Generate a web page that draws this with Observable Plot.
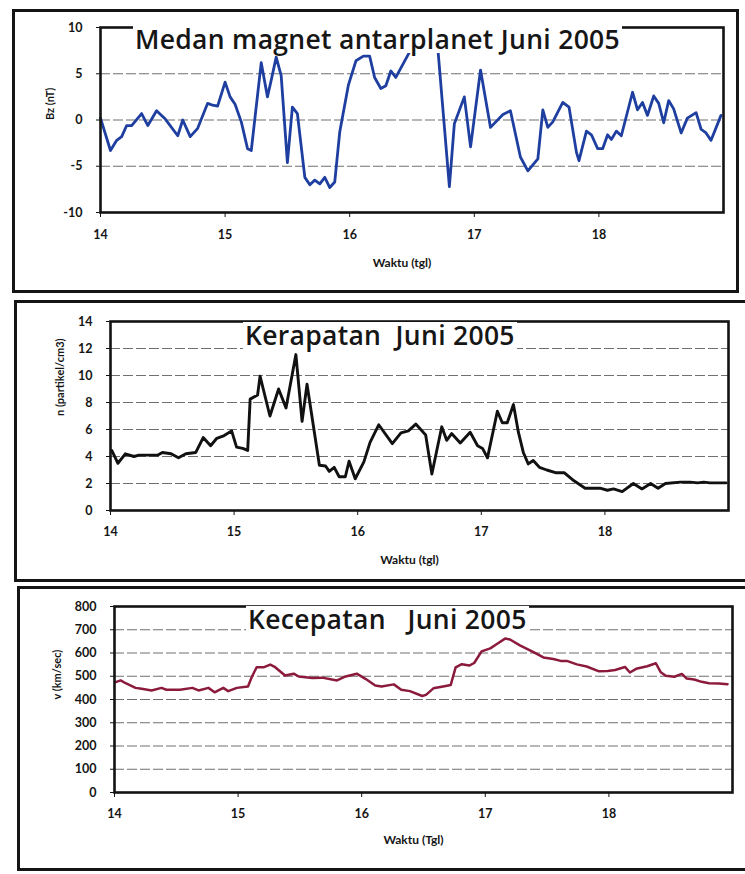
<!DOCTYPE html>
<html>
<head>
<meta charset="utf-8">
<script src="https://cdn.jsdelivr.net/npm/d3@7"></script>
<script src="https://cdn.jsdelivr.net/npm/@observablehq/plot@0.6"></script>
<style>
  html, body { margin: 0; padding: 0; background: #fff; }
  body { width: 745px; height: 874px; position: relative; overflow: hidden; font-family: Lato, "Open Sans", sans-serif; }
  .panel { position: absolute; border: 3px solid #151515; box-sizing: border-box; }
  .chart { position: absolute; left: 0; }
  .title { position: absolute; background: #fff; font-family: "Open Sans", Lato, sans-serif; font-weight: 600; font-size: 26.5px; color: #161616; line-height: 27px; white-space: pre; padding: 0 2px; letter-spacing: 0.3px; }
  svg text { font-weight: 700; }
</style>
</head>
<body>
<div class="panel" style="left:12px;top:9px;width:727px;height:284px;"></div>
<div class="panel" style="left:14px;top:300px;width:740px;height:282px;"></div>
<div class="panel" style="left:17px;top:586px;width:740px;height:285px;"></div>
<div id="c1" class="chart" style="top:0px;"></div>
<div id="c2" class="chart" style="top:300px;"></div>
<div id="c3" class="chart" style="top:585px;"></div>
<div class="title" style="left:133px;top:26px;">Medan magnet antarplanet Juni 2005</div>
<div class="title" style="left:243px;top:322px;">Kerapatan  Juni 2005</div>
<div class="title" style="left:246px;top:606px;">Kecepatan   Juni 2005</div>
<script>
// ---------- data ----------
const xTicks = [14, 15, 16, 17, 18];

// Medan magnet antarplanet Bz (nT)
const bzTime = [14.00,14.08,14.13,14.17,14.21,14.25,14.33,14.38,14.45,14.52,14.62,14.66,14.72,14.78,14.86,14.90,14.94,15.00,15.04,15.08,15.13,15.18,15.21,15.29,15.34,15.37,15.41,15.45,15.50,15.54,15.58,15.64,15.68,15.72,15.76,15.80,15.84,15.88,15.92,15.99,16.05,16.11,16.16,16.20,16.25,16.29,16.33,16.37,16.47,16.56,16.64,16.71,16.80,16.84,16.92,16.97,17.05,17.13,17.23,17.29,17.37,17.43,17.51,17.55,17.59,17.63,17.71,17.76,17.82,17.84,17.90,17.94,17.99,18.03,18.07,18.10,18.14,18.18,18.27,18.31,18.35,18.39,18.44,18.48,18.52,18.56,18.60,18.66,18.71,18.78,18.82,18.86,18.90,18.98];
const bzVal  = [0.2,-3.3,-2.2,-1.8,-0.6,-0.6,0.7,-0.6,1.0,0.1,-1.7,0.0,-1.8,-0.9,1.8,1.6,1.5,4.1,2.5,1.7,-0.2,-3.1,-3.3,6.2,2.5,4.3,6.8,4.8,-4.6,1.4,0.7,-6.2,-7.0,-6.5,-6.9,-6.2,-7.3,-6.7,-1.3,3.8,6.4,6.9,6.9,4.6,3.4,3.7,5.3,4.6,7.1,9.2,9.3,7.3,-7.2,-0.4,2.5,-2.9,5.4,-0.8,0.6,1.0,-4.0,-5.5,-4.2,1.1,-0.8,-0.2,1.9,1.4,-3.5,-4.4,-1.2,-1.6,-3.1,-3.1,-1.6,-2.1,-1.2,-1.7,3.0,1.1,1.9,0.5,2.6,1.8,-0.3,2.1,1.2,-1.4,0.2,0.8,-1.0,-1.4,-2.2,0.5];
const bzTicks = [-10, -5, 0, 5, 10];
const bzGrid = [-5, 0, 5];

// Kerapatan n (partikel/cm3)
const nTime = [14.01,14.06,14.12,14.19,14.23,14.38,14.42,14.49,14.55,14.61,14.69,14.75,14.81,14.86,14.92,14.98,15.02,15.07,15.11,15.13,15.19,15.21,15.29,15.36,15.42,15.50,15.55,15.59,15.69,15.74,15.77,15.81,15.85,15.90,15.93,15.98,16.05,16.10,16.17,16.28,16.35,16.41,16.47,16.55,16.60,16.68,16.72,16.76,16.83,16.91,16.97,17.01,17.05,17.13,17.17,17.21,17.26,17.30,17.34,17.38,17.42,17.47,17.53,17.60,17.67,17.75,17.84,17.96,18.02,18.07,18.14,18.23,18.30,18.37,18.43,18.49,18.61,18.69,18.75,18.80,18.85,18.98];
const nVal  = [4.45,3.5,4.2,4.0,4.1,4.1,4.3,4.2,3.9,4.2,4.3,5.4,4.8,5.35,5.55,5.9,4.7,4.6,4.45,8.25,8.55,9.95,7.0,9.0,7.6,11.55,6.6,9.35,3.35,3.3,2.9,3.2,2.5,2.5,3.65,2.35,3.6,5.05,6.35,4.95,5.75,5.9,6.4,5.6,2.7,6.2,5.2,5.7,5.0,5.8,4.8,4.6,3.9,7.35,6.5,6.5,7.85,5.8,4.3,3.45,3.7,3.2,3.0,2.8,2.8,2.2,1.65,1.65,1.5,1.6,1.4,2.0,1.6,2.0,1.65,2.0,2.1,2.1,2.05,2.1,2.05,2.05];
const nTicks = [0, 2, 4, 6, 8, 10, 12, 14];
const nGrid = [2, 4, 6, 8, 10, 12];

// Kecepatan v (km/sec)
const vTime = [14.01,14.05,14.09,14.17,14.22,14.30,14.38,14.42,14.53,14.63,14.68,14.76,14.81,14.88,14.92,14.99,15.08,15.11,15.15,15.21,15.26,15.30,15.38,15.45,15.49,15.60,15.68,15.80,15.87,15.96,16.03,16.11,16.16,16.26,16.32,16.39,16.49,16.52,16.58,16.68,16.72,16.76,16.81,16.87,16.91,16.97,17.04,17.10,17.16,17.20,17.28,17.39,17.47,17.55,17.61,17.66,17.74,17.82,17.92,17.99,18.05,18.13,18.17,18.22,18.31,18.38,18.42,18.46,18.53,18.59,18.63,18.69,18.75,18.81,18.89,18.96];
const vVal  = [475,482,470,450,446,439,450,442,442,450,439,450,431,450,436,450,456,496,539,539,550,539,503,511,499,492,494,482,499,511,489,460,456,465,442,436,415,420,448,458,462,538,552,546,557,607,620,641,662,658,633,604,581,574,566,566,551,542,521,523,527,540,516,532,543,556,517,502,498,510,490,486,476,470,469,466];
const vTicks = [0, 100, 200, 300, 400, 500, 600, 700, 800];
const vGrid = [100, 200, 300, 400, 500, 600, 700];

// ---------- drawing ----------
function chart(o) {
  const data = o.time.map((t, i) => ({t, v: o.values[i]}));
  return Plot.plot({
    width: 745,
    height: o.height,
    marginLeft: o.mL, marginRight: o.mR, marginTop: o.mT, marginBottom: o.mB,
    style: {fontFamily: "Lato, 'Open Sans', sans-serif", fontSize: "12px", fontWeight: "bold", color: "#151515", background: "transparent", overflow: "visible"},
    x: {domain: [14, 19]},
    y: {domain: o.yDomain},
    marks: [
      Plot.ruleY(o.grid, {stroke: "#707070", strokeWidth: 1.1, strokeDasharray: "10,3"}),
      Plot.line(data, {x: "t", y: "v", stroke: o.color, strokeWidth: o.sw, strokeLinejoin: "round"}),
      Plot.frame({stroke: "#131313", strokeWidth: 2.6}),
      Plot.axisX({ticks: xTicks, tickSize: 5, tickPadding: o.xPad, tickFormat: d => String(d), label: null, stroke: "#131313", fontWeight: "bold", fontSize: 12.5}),
      Plot.axisY({ticks: o.yTicks, tickSize: 4, tickPadding: 14, tickFormat: d => String(d), label: null, stroke: "#131313", fontWeight: "bold", fontSize: 12.5}),
      Plot.text([o.xlabel], {frameAnchor: "bottom", dy: o.xlabDy, dx: -10, fontSize: 12, fontWeight: "bold", fill: "#151515"}),
      Plot.text([o.ylabel], {frameAnchor: "left", dx: o.ylabDx, rotate: -90, fontSize: 11, fontWeight: "bold", fill: "#151515"})
    ]
  });
}

document.getElementById("c1").append(chart({
  time: bzTime, values: bzVal, yDomain: [-10, 10], yTicks: bzTicks, grid: bzGrid,
  color: "#1e3fa0", sw: 2.8, height: 300, mL: 100, mR: 22, mT: 27, mB: 88,
  xPad: 13, xlabel: "Waktu (tgl)", xlabDy: 54, ylabel: "Bz (nT)", ylabDx: -50
}));
document.getElementById("c2").append(chart({
  time: nTime, values: nVal, yDomain: [0, 14], yTicks: nTicks, grid: nGrid,
  color: "#111111", sw: 2.9, height: 285, mL: 110, mR: 17, mT: 21, mB: 75,
  xPad: 12, xlabel: "Waktu (tgl)", xlabDy: 53, ylabel: "n (partikel/cm3)", ylabDx: -50
}));
document.getElementById("c3").append(chart({
  time: vTime, values: vVal, yDomain: [0, 800], yTicks: vTicks, grid: vGrid,
  color: "#8c1a3c", sw: 2.5, height: 289, mL: 114, mR: 13, mT: 21, mB: 82,
  xPad: 12, xlabel: "Waktu (Tgl)", xlabDy: 51, ylabel: "v (km/sec)", ylabDx: -57
}));
</script>
</body>
</html>
